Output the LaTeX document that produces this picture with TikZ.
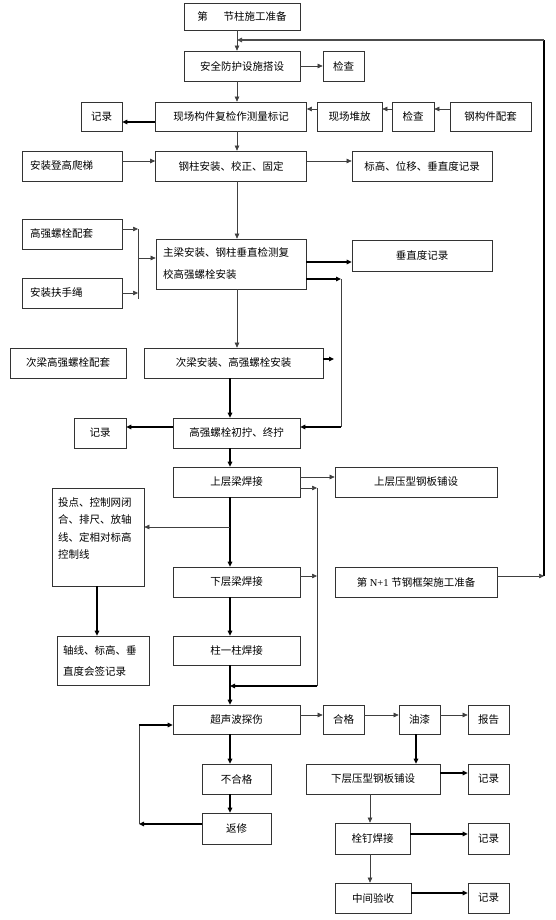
\documentclass[tikz,border=0pt]{standalone}
\usepackage{fontspec}
\setmainfont{Liberation Serif}
\newfontfamily\cjk{Noto Sans CJK SC}
\usetikzlibrary{arrows.meta}
\begin{document}
\begin{tikzpicture}[x=1pt,y=-1pt,
 box/.style={draw=black!80,line width=0.7pt,inner sep=0pt,font=\cjk\fontsize{10.5}{13}\selectfont},
 ln/.style={draw=black!75,line width=0.6pt},
 thk/.style={draw=black,line width=1.2pt},
 tip/.style={-{Triangle[length=5pt,width=4.5pt]}}]
\useasboundingbox[fill=white] (0,0) rectangle (555,920);
\coordinate (X) at (237,0);
\coordinate (Y) at (230,0);
% boxes
\node[box,minimum width=116,minimum height=27] (top) at (242,16.5) {第\hspace{16pt}节柱施工准备};
\node[box,minimum width=116,minimum height=30] (safe) at (242,66) {安全防护设施搭设};
\node[box,minimum width=41,minimum height=30] (chk1) at (343.5,66) {检查};
\node[box,minimum width=151,minimum height=29] (site) at (231,116.5) {现场构件复检作测量标记};
\node[box,minimum width=41,minimum height=29] (rec1) at (101.5,116.5) {记录};
\node[box,minimum width=65,minimum height=29] (stack) at (349.5,116.5) {现场堆放};
\node[box,minimum width=42,minimum height=29] (chk2) at (413,116.5) {检查};
\node[box,minimum width=81,minimum height=29] (parts) at (490.5,116.5) {钢构件配套};
\node[box,minimum width=100,minimum height=30,text width=84,align=left] (ladder) at (72,166) {安装登高爬梯};
\node[box,minimum width=151,minimum height=30] (col) at (231,166) {钢柱安装、校正、固定};
\node[box,minimum width=140,minimum height=30] (rec2) at (422,166) {标高、位移、垂直度记录};
\node[box,minimum width=100,minimum height=30,text width=84,align=left] (bolt) at (72,234) {高强螺栓配套};
\node[box,minimum width=100,minimum height=30,text width=84,align=left] (rope) at (72,293) {安装扶手绳};
\node[box,minimum width=150,minimum height=50,text width=136,align=left,font=\cjk\fontsize{10.5}{22}\selectfont] (main) at (231,264) {主梁安装、钢柱垂直检测复\\校高强螺栓安装};
\node[box,minimum width=140,minimum height=31] (rec3) at (422,255.5) {垂直度记录};
\node[box,minimum width=116,minimum height=30] (sec) at (68,363) {次梁高强螺栓配套};
\node[box,minimum width=179,minimum height=30] (secb) at (233.5,363) {次梁安装、高强螺栓安装};
\node[box,minimum width=127,minimum height=30] (hsb) at (236.5,433) {高强螺栓初拧、终拧};
\node[box,minimum width=52,minimum height=30] (rec4) at (100,433) {记录};
\node[box,minimum width=127,minimum height=30] (upw) at (236.5,482) {上层梁焊接};
\node[box,minimum width=162,minimum height=30] (upd) at (416,482) {上层压型钢板铺设};
\node[box,minimum width=92,minimum height=98,text width=80,align=left,font=\cjk\fontsize{10.5}{17.5}\selectfont] (survey) at (98,537) {投点、控制网闭\\合、排尺、放轴\\线、定相对标高\\控制线\\\mbox{}};
\node[box,minimum width=127,minimum height=30] (lw) at (236.5,582) {下层梁焊接};
\node[box,minimum width=162,minimum height=30] (next) at (416,582) {第{\rmfamily\ N+1 }节钢框架施工准备};
\node[box,minimum width=92,minimum height=49,text width=80,align=left,font=\cjk\fontsize{10.5}{21}\selectfont] (axis) at (103,660.5) {轴线、标高、垂\\直度会签记录};
\node[box,minimum width=127,minimum height=29] (cw) at (236.5,650.5) {柱一柱焊接};
\node[box,minimum width=127,minimum height=29] (ut) at (236.5,719.5) {超声波探伤};
\node[box,minimum width=41,minimum height=29] (ok) at (343.5,719.5) {合格};
\node[box,minimum width=41,minimum height=29] (paint) at (419.5,719.5) {油漆};
\node[box,minimum width=41,minimum height=29] (rep) at (488.5,719.5) {报告};
\node[box,minimum width=69,minimum height=30] (ng) at (236.5,779) {不合格};
\node[box,minimum width=69,minimum height=31] (fix) at (236.5,828.5) {返修};
\node[box,minimum width=134,minimum height=30] (lowd) at (373,779) {下层压型钢板铺设};
\node[box,minimum width=41,minimum height=30] (rec5) at (488.5,779) {记录};
\node[box,minimum width=75,minimum height=31] (stud) at (372.5,838.5) {栓钉焊接};
\node[box,minimum width=41,minimum height=31] (rec6) at (488.5,838.5) {记录};
\node[box,minimum width=76,minimum height=30] (mid) at (373,898) {中间验收};
\node[box,minimum width=41,minimum height=30] (rec7) at (488.5,898) {记录};
% helper coordinates
\coordinate (R1) at (544,40);
\coordinate (R2) at (544,576);
\coordinate (r1) at (0,122);
\coordinate (r2) at (0,109);
\coordinate (r3) at (0,161);
\coordinate (B1) at (138,229);
\coordinate (B2) at (138,299);
\coordinate (B3) at (138,258);
\coordinate (B4) at (138,293);
\coordinate (M1) at (0,262);
\coordinate (J1) at (341,279);
\coordinate (J2) at (341,427);
\coordinate (S1) at (334,359);
\coordinate (K1) at (317,488);
\coordinate (K2) at (317,686);
\coordinate (K3) at (317,576);
\coordinate (U1) at (0,477);
\coordinate (V1) at (230,527);
\coordinate (Z) at (97,0);
\coordinate (L1) at (139,824);
\coordinate (L2) at (139,725);
\coordinate (O1) at (0,715);
\coordinate (P) at (416,0);
\coordinate (Q) at (370,0);
\coordinate (T1) at (0,773);
\coordinate (T2) at (0,834);
\coordinate (T3) at (0,893);
% connectors
\draw[ln,tip] (top.south -| X) -- (safe.north -| X);
\draw[line width=1.1pt] (R2) -- (R1);
\draw[thk,draw=black!70,tip] (R1) -- (R1 -| X);
\draw[ln,tip] (safe.east) -- (chk1.west);
\draw[ln,tip] (safe.south -| X) -- (site.north -| X);
\draw[thk,tip] (site.west |- r1) -- (rec1.east |- r1);
\draw[ln,tip] (stack.west |- r2) -- (site.east |- r2);
\draw[ln,tip] (chk2.west |- r2) -- (stack.east |- r2);
\draw[ln,tip] (parts.west |- r2) -- (chk2.east |- r2);
\draw[ln,tip] (site.south -| X) -- (col.north -| X);
\draw[ln,tip] (ladder.east |- r3) -- (col.west |- r3);
\draw[ln,tip] (col.east |- r3) -- (rec2.west |- r3);
\draw[ln,tip] (col.south -| X) -- (main.north -| X);
\draw[ln,tip] (bolt.east |- B1) -- (B1);
\draw[ln,tip] (rope.east |- B4) -- (B4);
\draw[ln] (B1) -- (B2);
\draw[ln,tip] (B3) -- (main.west |- B3);
\draw[thk,tip] (main.east |- M1) -- (rec3.west |- M1);
\draw[thk,tip] (main.east |- J1) -- (J1);
\draw[ln] (J1) -- (J2);
\draw[thk,tip] (J2) -- (hsb.east |- J2);
\draw[ln,tip] (main.south -| X) -- (secb.north -| X);
\draw[thk,tip] (secb.east |- S1) -- (S1);
\draw[thk,tip] (secb.south -| Y) -- (hsb.north -| Y);
\draw[thk,tip] (hsb.west |- J2) -- (rec4.east |- J2);
\draw[thk,tip] (hsb.south -| Y) -- (upw.north -| Y);
\draw[ln,tip] (upw.east |- U1) -- (upd.west |- U1);
\draw[ln,tip] (upw.east |- K1) -- (K1);
\draw[ln] (K1) -- (K2);
\draw[thk,tip] (K2) -- (K2 -| Y);
\draw[thk,tip] (upw.south -| Y) -- (lw.north -| Y);
\draw[ln,tip] (V1) -- (survey.east |- V1);
\draw[ln,tip] (lw.east |- K3) -- (K3);
\draw[ln,tip] (next.east |- R2) -- (R2);
\draw[thk,tip] (survey.south -| Z) -- (axis.north -| Z);
\draw[thk,tip] (lw.south -| Y) -- (cw.north -| Y);
\draw[thk,tip] (cw.south -| Y) -- (ut.north -| Y);
\draw[ln,tip] (ut.east |- O1) -- (ok.west |- O1);
\draw[ln,tip] (ok.east |- O1) -- (paint.west |- O1);
\draw[ln,tip] (paint.east |- O1) -- (rep.west |- O1);
\draw[thk,tip] (ut.south -| Y) -- (ng.north -| Y);
\draw[thk,tip] (ng.south -| Y) -- (fix.north -| Y);
\draw[thk,tip] (fix.west |- L1) -- (L1);
\draw[ln] (L1) -- (L2);
\draw[thk,tip] (L2) -- (ut.west |- L2);
\draw[thk,tip] (paint.south -| P) -- (lowd.north -| P);
\draw[thk,tip] (lowd.east |- T1) -- (rec5.west |- T1);
\draw[ln,tip] (lowd.south -| Q) -- (stud.north -| Q);
\draw[thk,tip] (stud.east |- T2) -- (rec6.west |- T2);
\draw[ln,tip] (stud.south -| Q) -- (mid.north -| Q);
\draw[thk,tip] (mid.east |- T3) -- (rec7.west |- T3);
\end{tikzpicture}
\end{document}
